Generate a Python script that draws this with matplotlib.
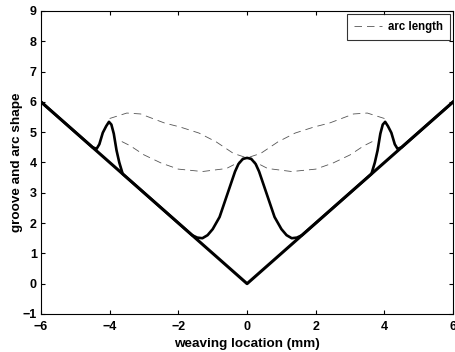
import numpy as np
import matplotlib
matplotlib.use('Agg')
import matplotlib.pyplot as plt

# groove profile (V shape)
groove_x = [-6, 0, 6]
groove_y = [6, 0, 6]

# arc shape, right half (mirrored to the left)
arc_x_half = [0.0, 0.12, 0.25, 0.35, 0.5, 0.65, 0.8, 1.0, 1.15, 1.3, 1.45, 1.6,
              3.62, 3.72, 3.8, 3.88, 3.95, 4.02, 4.1, 4.2, 4.3, 4.38, 4.5, 6.0]
arc_y_half = [4.15, 4.12, 3.95, 3.7, 3.2, 2.7, 2.2, 1.8, 1.6, 1.5, 1.52, 1.6,
              3.62, 4.0, 4.4, 4.95, 5.25, 5.34, 5.2, 4.98, 4.6, 4.45, 4.5, 6.0]

# arc length curves (second one is the mirror image)
len_x = [-4.0, -3.5, -3.1, -2.4, -1.95, -1.4, -0.9, -0.4, 0.0, 0.6, 1.3, 2.0, 2.5, 3.0, 3.4, 3.7]
len_y = [5.45, 5.63, 5.6, 5.3, 5.17, 4.97, 4.68, 4.3, 4.15, 3.8, 3.7, 3.78, 3.98, 4.25, 4.55, 4.72]

xticks = [-6, -4, -2, 0, 2, 4, 6]
yticks = [-1, 0, 1, 2, 3, 4, 5, 6, 7, 8, 9]

plt.rcParams['font.family'] = 'Liberation Sans'
plt.rcParams['font.weight'] = 'bold'

fig = plt.figure(figsize=(4.55, 3.52), dpi=100)
ax = fig.add_axes([0.090, 0.108, 0.906, 0.861])

arc_x = [-v for v in arc_x_half[::-1]] + arc_x_half[1:]
arc_y = arc_y_half[::-1] + arc_y_half[1:]

ax.plot(len_x, len_y, color='#555555', lw=0.6, dashes=(9, 6), label='arc length')
ax.plot([-v for v in len_x], len_y, color='#555555', lw=0.6, dashes=(9, 6))
ax.plot(groove_x, groove_y, color='black', lw=2.2)
ax.plot(arc_x, arc_y, color='black', lw=1.9)

ax.set_xlim(-6, 6)
ax.set_ylim(-1, 9)
ax.set_xticks(xticks)
ax.set_yticks(yticks)
ax.tick_params(direction='in', top=True, right=True, length=3, labelsize=9)
ax.tick_params(axis='x', pad=5)
ax.tick_params(axis='y', pad=3)
for sp in ax.spines.values():
    sp.set_linewidth(0.8)
ax.set_xlabel('weaving location (mm)', fontsize=9.7, fontweight='bold', labelpad=4)
ax.set_ylabel('groove and arc shape', fontsize=9.7, fontweight='bold', labelpad=0)

leg = ax.legend(loc='upper right', fontsize=8.3, frameon=True, fancybox=False,
                handlelength=2.4, handletextpad=0.5, borderaxespad=0.3, borderpad=0.6)
leg.get_frame().set_edgecolor('black')
leg.get_frame().set_linewidth(0.8)

fig.savefig('out.png', dpi=100)
